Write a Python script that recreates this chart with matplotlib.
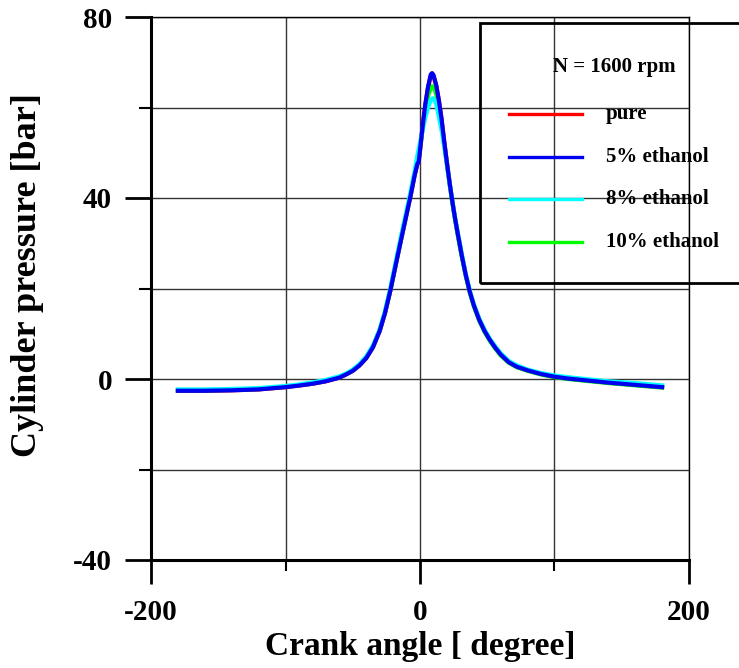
import matplotlib
matplotlib.use("Agg")
import matplotlib.pyplot as plt
from matplotlib.patches import Rectangle
from matplotlib.lines import Line2D
from matplotlib.ticker import MultipleLocator

plt.rcParams['font.family'] = ['Liberation Serif', 'DejaVu Serif']
plt.rcParams['font.weight'] = 'bold'
plt.rcParams['axes.unicode_minus'] = False

# Crank angle [deg]
crank_angle = [-180, -160, -140, -120, -100, -90, -80, -70, -60, -55, -50, -45, -40,
               -35, -30, -26, -22, -18, -14, -10, -7, -4, -2, -1, 0, 2, 4, 6, 8, 9,
               10, 12, 14, 16, 18, 20, 22, 24, 26, 28, 31, 34, 37, 40, 44, 48, 52,
               56, 60, 66, 72, 80, 90, 100, 110, 120, 140, 160, 180]

# Cylinder pressure [bar] for each fuel blend
p_pure = [-2.6, -2.6, -2.5, -2.3, -1.8, -1.45, -1.05, -0.5, 0.3, 1.0, 1.8, 3.0, 4.6,
          7.0, 10.6, 14.6, 19.6, 25.3, 30.9, 36.4, 40.5, 45.0, 47.5, 48.0, 50.4, 55.8,
          60.6, 64.4, 67.0, 67.3, 67.0, 64.9, 61.6, 57.5, 52.5, 47.8, 43.4, 39.3, 35.6,
          32.2, 27.4, 23.0, 19.3, 16.3, 13.1, 10.6, 8.6, 6.9, 5.4, 3.7, 2.7, 1.9, 1.1,
          0.5, 0.1, -0.2, -0.8, -1.3, -1.8]
p_eth5 = [-2.6, -2.6, -2.5, -2.3, -1.8, -1.45, -1.05, -0.5, 0.3, 1.0, 1.8, 3.0, 4.6,
          7.0, 10.6, 14.6, 19.6, 25.3, 30.9, 36.4, 40.5, 45.0, 47.5, 48.0, 50.5, 56.0,
          60.8, 64.6, 67.3, 67.6, 67.2, 65.0, 61.6, 57.5, 52.5, 47.8, 43.4, 39.3, 35.6,
          32.2, 27.4, 23.0, 19.3, 16.3, 13.1, 10.6, 8.6, 6.9, 5.4, 3.7, 2.7, 1.9, 1.1,
          0.5, 0.1, -0.2, -0.8, -1.3, -1.8]
p_eth8 = [-2.3, -2.3, -2.2, -2.0, -1.55, -1.2, -0.75, -0.2, 0.6, 1.2, 2.1, 3.3, 5.0,
          7.4, 11.0, 15.1, 20.2, 26.0, 31.8, 37.2, 41.5, 46.0, 49.3, 50.8, 52.3, 55.0,
          57.8, 60.0, 61.6, 62.0, 62.0, 60.8, 58.0, 55.0, 51.3, 47.4, 43.4, 39.5, 35.8,
          32.5, 27.8, 23.3, 19.6, 16.6, 13.4, 10.9, 8.9, 7.2, 5.7, 4.0, 3.0, 2.1, 1.3,
          0.8, 0.4, 0.1, -0.5, -0.9, -1.4]
p_eth10 = [-2.5, -2.5, -2.4, -2.2, -1.7, -1.35, -0.95, -0.4, 0.4, 1.1, 1.9, 3.1, 4.7,
           7.1, 10.7, 14.7, 19.7, 25.4, 31.0, 36.5, 40.7, 45.3, 48.0, 48.8, 51.0, 55.5,
           59.5, 62.5, 64.3, 64.7, 64.6, 63.0, 60.0, 56.3, 52.0, 47.4, 43.0, 39.0, 35.3,
           31.9, 27.1, 22.8, 19.1, 16.1, 12.9, 10.4, 8.4, 6.7, 5.2, 3.6, 2.6, 1.8, 1.0,
           0.4, 0.0, -0.3, -0.9, -1.4, -1.9]

series_labels = ["pure", "5% ethanol", "8% ethanol", "10% ethanol"]
series_colors = ["#ff0000", "#0000f0", "#00ffff", "#00ff00"]
legend_title = "N = 1600 rpm"

W, H = 739, 668
fig = plt.figure(figsize=(W / 100, H / 100), dpi=100)
ax = fig.add_axes([151 / W, 1 - 560 / H, (689 - 151) / W, (560 - 17) / H])

# draw order: pure, 10%, 8%, 5% on top
ax.plot(crank_angle, p_pure, color=series_colors[0], lw=3.0, zorder=3)
ax.plot(crank_angle, p_eth10, color=series_colors[3], lw=3.0, zorder=4)
ax.plot(crank_angle, p_eth8, color=series_colors[2], lw=3.0, zorder=5)
ax.plot(crank_angle, p_eth5, color=series_colors[1], lw=3.0, zorder=6)

ax.set_xlim(-200, 200)
ax.set_ylim(-40, 80)
ax.xaxis.set_major_locator(MultipleLocator(200))
ax.xaxis.set_minor_locator(MultipleLocator(100))
ax.yaxis.set_major_locator(MultipleLocator(40))
ax.yaxis.set_minor_locator(MultipleLocator(20))

ax.grid(which='both', color='#333333', lw=1.0, zorder=1)
ax.set_axisbelow(True)

for side in ('left', 'bottom'):
    ax.spines[side].set_linewidth(2.2)
for side in ('top', 'right'):
    ax.spines[side].set_linewidth(1.0)

ax.tick_params(axis='both', which='major', direction='out', width=2.0,
               labelsize=21, colors='black')
ax.tick_params(axis='y', which='major', length=19, pad=9)
ax.tick_params(axis='y', which='minor', length=9, width=1.5, direction='out')
ax.tick_params(axis='x', which='major', length=17, pad=11)
ax.tick_params(axis='x', which='minor', length=8, width=1.5, direction='out')
for lbl in ax.get_xticklabels() + ax.get_yticklabels():
    lbl.set_fontweight('bold')

# axis titles
fig.text(420 / W, 1 - 646 / H, "Crank angle [ degree]", ha='center', va='center',
         fontsize=24, fontweight='bold')
fig.text(28 / W, 1 - 275 / H, "Cylinder pressure [bar]", ha='center', va='center',
         rotation=90, fontsize=26, fontweight='bold')

# legend frame (no fill, extends past the right edge)
fig.patches.append(Rectangle((480 / W, 1 - 283 / H), 300 / W, 260 / H,
                             transform=fig.transFigure, fill=False,
                             edgecolor='black', lw=2.0, zorder=10))
fig.text(614 / W, 1 - 67 / H, legend_title, ha='center', va='center',
         fontsize=15, fontweight='bold')
legend_rows = [114, 157, 199, 242]
for lab, col, yy in zip(series_labels, series_colors, legend_rows):
    fig.lines.append(Line2D([509 / W, 582 / W], [1 - yy / H, 1 - yy / H],
                            transform=fig.transFigure, color=col, lw=2.4))
    fig.text(606 / W, 1 - yy / H, lab, ha='left', va='center',
             fontsize=15, fontweight='bold')

fig.savefig("out.png", dpi=100)
